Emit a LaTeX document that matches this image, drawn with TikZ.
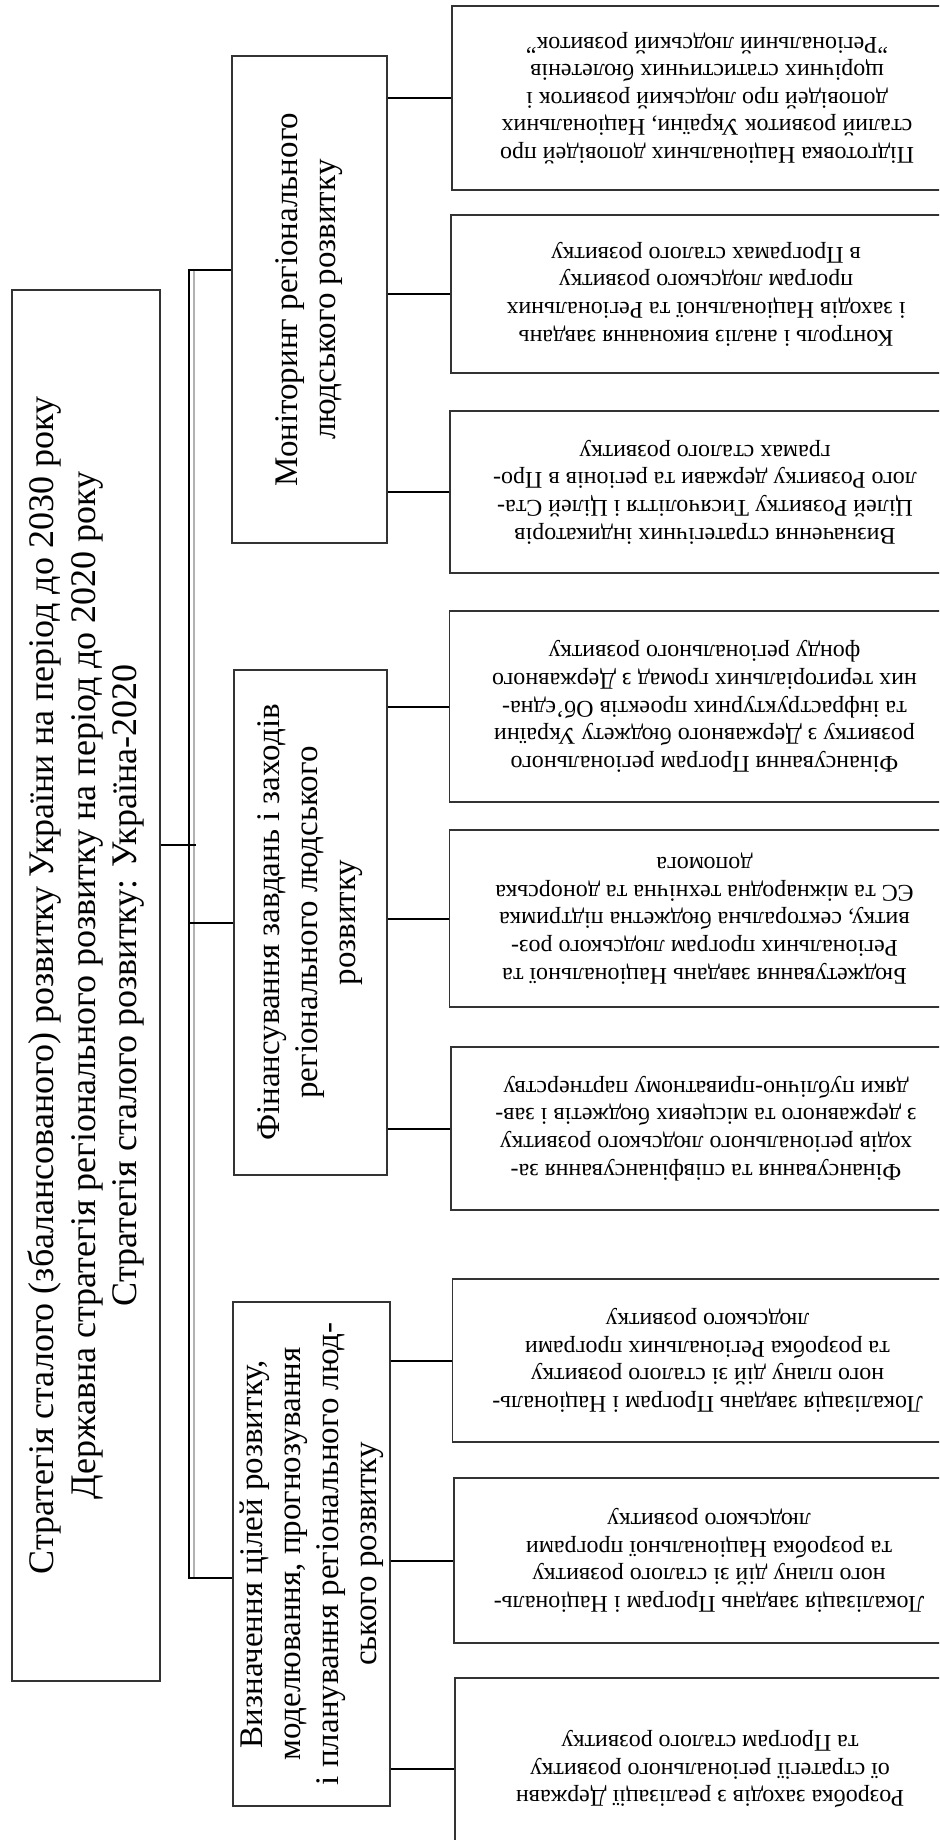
\documentclass[tikz,border=0pt]{standalone}
\usepackage{fontspec}
\setmainfont{Liberation Serif}
\tikzset{
  bigbox/.style={draw=black!80, line width=0.6pt, rotate=90, align=center,
    inner sep=0pt, font=\fontsize{16.5}{19}\selectfont},
  leafbox/.style={draw=black!80, line width=0.6pt, rotate=180, align=center,
    inner sep=0pt, minimum width=255pt, font=\fontsize{12}{13.8}\selectfont},
  link/.style={line width=1pt},
  shadowline/.style={line width=0.8pt, black!30},
}
\begin{document}
\begin{tikzpicture}[x=0.5pt,y=-0.5pt]
\useasboundingbox (0,0) rectangle (939,1840);
\clip (0,0) rectangle (939,1840);
% strategies
\node[bigbox, minimum width=695.5pt, minimum height=74pt, font=\fontsize{18}{20.7}\selectfont] (main) at (86,985.5)
  {Стратегія сталого (збалансованого) розвитку України на період до 2030 року\\
   Державна стратегія регіонального розвитку на період до 2020 року\\
   Стратегія сталого розвитку: Україна-2020};
% directions
\node[bigbox, minimum width=243.5pt, minimum height=77.5pt] (monitor) at (309.5,299.5)
  {Моніторинг регіонального\\ людського розвитку};
\node[bigbox, minimum width=252.5pt, minimum height=76.5pt] (finance) at (310.5,922.5)
  {Фінансування завдань і заходів\\ регіонального людського\\ розвитку};
\node[bigbox, minimum width=252pt, minimum height=78.5pt] (plan) at (311.5,1554)
  {Визначення цілей розвитку,\\ моделювання, прогнозування\\
   і планування регіонального люд-\\ ського розвитку};
% tasks
\node[leafbox, minimum height=92pt] (report) at (707,98)
  {Підготовка Національних доповідей про\\ сталий розвиток України, Національних\\
   доповідей про людський розвиток і\\ щорічних статистичних бюлетенів\\
   "Регіональний людський розвиток"};
\node[leafbox, minimum height=79pt] (control) at (706,294)
  {Контроль і аналіз виконання завдань\\ і заходів Національної та Регіональних\\
   програм людського розвитку\\ в Програмах сталого розвитку};
\node[leafbox, minimum height=81pt] (indic) at (705,492)
  {Визначення стратегічних індикаторів\\ Цілей Розвитку Тисячоліття і Цілей Ста-\\
   лого Розвитку держави та регіонів в Про-\\ грамах сталого розвитку};
\node[leafbox, minimum height=95.5pt] (fund) at (704.5,706.5)
  {Фінансування Програм регіонального\\ розвитку з Державного бюджету України\\
   та інфраструктурних проектів Об'єдна-\\ них територіальних громад з Державного\\
   фонду регіонального розвитку};
\node[leafbox, minimum height=88.5pt] (budget) at (704.5,918.5)
  {Бюджетування завдань Національної та\\ Регіональних програм людського роз-\\
   витку, секторальна бюджетна підтримка\\ ЄС та міжнародна технічна та донорська\\
   допомога};
\node[leafbox, minimum height=81.5pt] (cofund) at (706,1128.5)
  {Фінансування та співфінансування за-\\ ходів регіонального людського розвитку\\
   з державного та місцевих бюджетів і зав-\\ дяки публічно-приватному партнерству};
\node[leafbox, minimum height=81.5pt] (localreg) at (707.5,1360.5)
  {Локалізація завдань Програм і Національ-\\ ного плану дій зі сталого розвитку\\
   та розробка Регіональних програми\\ людського розвитку};
\node[leafbox, minimum height=82.5pt] (localnat) at (709,1560.5)
  {Локалізація завдань Програм і Національ-\\ ного плану дій зі сталого розвитку\\
   та розробка Національної програми\\ людського розвитку};
\node[leafbox, minimum height=91pt] (measures) at (710,1769)
  {Розробка заходів з реалізації Державн\\ ої стратегії регіонального розвитку\\
   та Програм сталого розвитку};
% bus
\coordinate (busT) at (189,270);
\coordinate (busB) at (189,1578);
\coordinate (mainJ) at (196,845);
\draw[shadowline] ([xshift=2.5pt]busT) -- ([xshift=2.5pt]busB);
\draw[link] (monitor.north |- busT) -- (busT) -- (busB) -- (busB -| plan.north);
\draw[link] (main.south |- mainJ) -- (mainJ);
\draw[link] (finance.north -| busT) -- (finance.north);
% branches
\draw[link] (monitor.south |- report.east) -- (report.east);
\draw[link] (monitor.south |- control.east) -- (control.east);
\draw[link] (monitor.south |- indic.east) -- (indic.east);
\draw[link] (finance.south |- fund.east) -- (fund.east);
\draw[link] (finance.south |- budget.east) -- (budget.east);
\draw[link] (finance.south |- cofund.east) -- (cofund.east);
\draw[link] (plan.south |- localreg.east) -- (localreg.east);
\draw[link] (plan.south |- localnat.east) -- (localnat.east);
\draw[link] (plan.south |- measures.east) -- (measures.east);
\end{tikzpicture}
\end{document}
